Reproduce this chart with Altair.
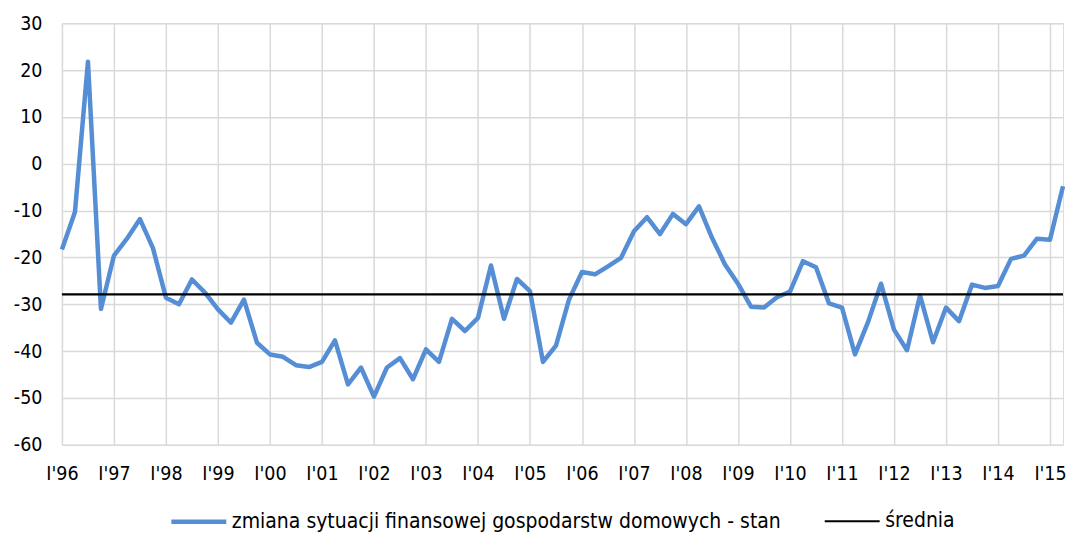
import json
import altair as alt
import pandas as pd

# Quarterly data I'96 .. II'15
values = [
    -18.3, -10.3, 21.8, -31.0,   # 1996
    -19.6, -16.0, -11.8, -18.0,  # 1997
    -28.6, -30.0, -24.7, -27.5,  # 1998
    -31.1, -33.9, -29.0, -38.2,  # 1999
    -40.7, -41.2, -43.0, -43.4,  # 2000
    -42.3, -37.7, -47.1, -43.5,  # 2001
    -49.7, -43.5, -41.5, -46.0,  # 2002
    -39.6, -42.3, -33.1, -35.7,  # 2003
    -32.9, -21.7, -33.1, -24.6,  # 2004
    -27.2, -42.3, -38.8, -29.0,  # 2005
    -23.1, -23.6, -21.9, -20.1,  # 2006
    -14.4, -11.4, -15.0, -10.7,  # 2007
    -12.9, -9.1, -15.8, -21.5,   # 2008
    -25.6, -30.5, -30.7, -28.5,  # 2009
    -27.3, -20.8, -22.1, -29.8,  # 2010
    -30.7, -40.7, -33.8, -25.6,  # 2011
    -35.4, -39.8, -28.1, -38.1,  # 2012
    -30.7, -33.6, -25.8, -26.5,  # 2013
    -26.1, -20.3, -19.6, -16.0,  # 2014
    -16.2, -4.8,                 # 2015
]
mean_value = -27.9
year_labels = ["I'96", "I'97", "I'98", "I'99", "I'00", "I'01", "I'02", "I'03",
               "I'04", "I'05", "I'06", "I'07", "I'08", "I'09", "I'10", "I'11",
               "I'12", "I'13", "I'14", "I'15"]
series_names = ["zmiana sytuacji finansowej gospodarstw domowych - stan", "średnia"]
y_ticks = [-60, -50, -40, -30, -20, -10, 0, 10, 20, 30]

n = len(values)
rows = [{"q": i, "v": v, "s": series_names[0]} for i, v in enumerate(values)]
rows += [{"q": 0, "v": mean_value, "s": series_names[1]},
         {"q": n - 1, "v": mean_value, "s": series_names[1]}]
df = pd.DataFrame(rows)

FONT = "DejaVu Sans Condensed, DejaVu Sans"
FS = 19.5
LFS = 21
label_expr = json.dumps(year_labels) + "[round(datum.value / 4)]"

legend_kw = dict(title=None, orient="none", legendX=107, legendY=469,
                 direction="horizontal", columns=2, columnPadding=39,
                 symbolType="stroke", symbolSize=3025, labelFontSize=LFS,
                 labelFont=FONT, labelColor="#000000", labelLimit=0,
                 labelOffset=3)

chart = alt.Chart(df).mark_line(strokeJoin="round", strokeCap="butt").encode(
    x=alt.X("q:Q",
            scale=alt.Scale(domain=[0, n - 1], nice=False, zero=False),
            axis=alt.Axis(values=list(range(0, n, 4)), labelExpr=label_expr,
                          title=None, domain=False, ticks=False,
                          labelPadding=20, grid=True, gridColor="#d9d9d9",
                          gridWidth=1.5, labelFontSize=FS, labelFont=FONT,
                          labelColor="#000000", labelFlush=False)),
    y=alt.Y("v:Q",
            scale=alt.Scale(domain=[-60, 30], nice=False),
            axis=alt.Axis(values=y_ticks, labelExpr="'' + datum.value",
                          title=None, domain=False, ticks=False,
                          labelPadding=20, grid=True, gridColor="#d9d9d9",
                          gridWidth=1.5, labelFontSize=FS, labelFont=FONT,
                          labelColor="#000000", minExtent=54, maxExtent=54)),
    color=alt.Color("s:N",
                    scale=alt.Scale(domain=series_names, range=["#558ed5", "#000000"]),
                    legend=alt.Legend(**legend_kw)),
    strokeWidth=alt.StrokeWidth("s:N",
                                scale=alt.Scale(domain=series_names, range=[4.5, 2.2]),
                                legend=alt.Legend(**legend_kw)),
    order=alt.Order("q:Q"),
).properties(
    width=1002, height=422,
    padding={"left": 0, "top": 5, "right": 0, "bottom": 0},
).configure_view(strokeWidth=0).configure(background="white")

chart.save("out.html", embed_options={"renderer": "svg", "actions": False})
